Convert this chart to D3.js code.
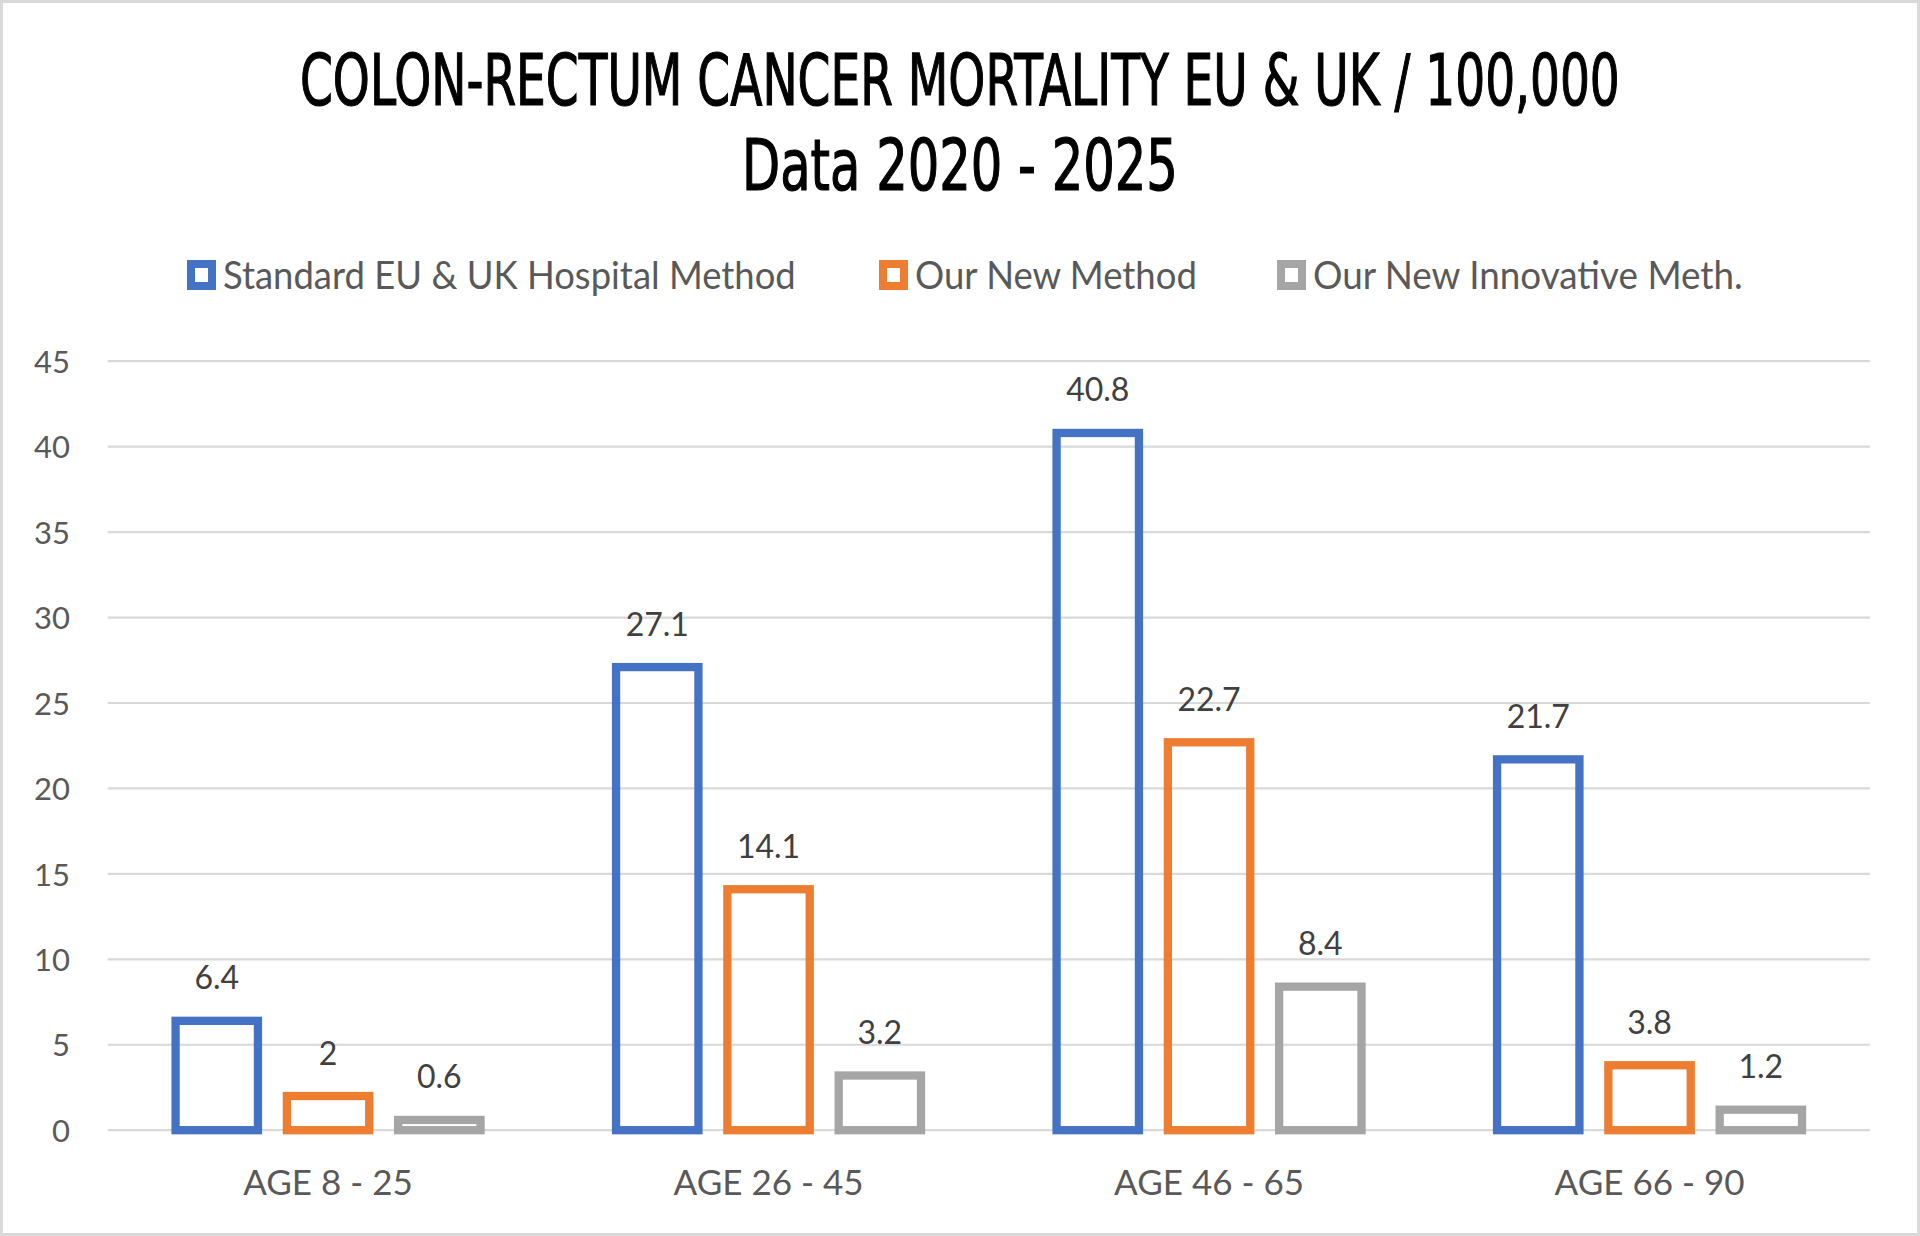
<!DOCTYPE html>
<html><head><meta charset="utf-8">
<script src="https://cdn.jsdelivr.net/npm/d3@7/dist/d3.min.js"></script>
<style>html,body{margin:0;padding:0;background:#fff;}svg{display:block;}</style>
</head><body>
<svg id="chart" width="1920" height="1236"></svg>
<script>
const categories = ["AGE 8 - 25", "AGE 26 - 45", "AGE 46 - 65", "AGE 66 - 90"];
const seriesNames = ["Standard EU & UK Hospital Method", "Our New Method", "Our New Innovative Meth."];
const standardValues = [6.4, 27.1, 40.8, 21.7];
const newMethodValues = [2, 14.1, 22.7, 3.8];
const innovativeValues = [0.6, 3.2, 8.4, 1.2];
const yTicks = [0, 5, 10, 15, 20, 25, 30, 35, 40, 45];
const titleLines = ["COLON-RECTUM CANCER MORTALITY EU & UK / 100,000", "Data 2020 - 2025"];
const colors = ["#4472C4", "#ED7D31", "#A5A5A5"];

const seriesValues = [standardValues, newMethodValues, innovativeValues];
const W = 1920, H = 1236;
const svg = d3.select("#chart");
const bodyFont = "Lato, 'Open Sans', sans-serif";

svg.append("rect").attr("x", 1.5).attr("y", 1.5).attr("width", W - 3).attr("height", H - 3)
  .attr("fill", "#fff").attr("stroke", "#D9D9D9").attr("stroke-width", 3);

// helper: draw text and squeeze horizontally to a target width
function fitText(sel, x0, yb, w) {
  const node = sel.node();
  const natural = node.getComputedTextLength();
  const sx = Math.min(1.15, w / natural);
  sel.attr("x", 0).attr("y", 0).attr("transform", `translate(${x0},${yb}) scale(${sx},1)`);
}

// Title
const titleFont = "'Liberation Sans Narrow', 'DejaVu Sans Condensed', sans-serif";
const titleSpecs = [{y: 105, x0: 300, w: 1320}, {y: 190, x0: 742, w: 436}];
titleLines.forEach((t, i) => {
  const tt = svg.append("text")
    .attr("font-family", titleFont).attr("font-size", 71).attr("fill", "#000")
    .attr("stroke", "#000").attr("stroke-width", 1.2)
    .text(t);
  fitText(tt, titleSpecs[i].x0, titleSpecs[i].y, titleSpecs[i].w);
});

// Legend
const legendSpecs = [{sx: 187, tx: 223, tw: 573}, {sx: 879, tx: 915, tw: 282}, {sx: 1277, tx: 1313, tw: 430}];
seriesNames.forEach((n, i) => {
  const g = svg.append("g");
  g.append("rect").attr("x", legendSpecs[i].sx + 4).attr("y", 260 + 4).attr("width", 21).attr("height", 22)
    .attr("fill", "#fff").attr("stroke", colors[i]).attr("stroke-width", 8);
  const t = g.append("text").attr("dy", "0.36em")
    .attr("font-family", bodyFont).attr("font-size", 38).attr("fill", "#595959")
    .text(n);
  fitText(t, legendSpecs[i].tx, 275, legendSpecs[i].tw);
});

// Scales
const plotLeft = 107.8, plotRight = 1869.8, yBottom = 1130.2, yTop = 361.2;
const x = d3.scaleBand().domain(categories).range([plotLeft, plotRight]).padding(0);
const xs = d3.scaleBand().domain(d3.range(seriesNames.length)).range([0, x.bandwidth()])
  .paddingInner(0.26).paddingOuter(0.609);
const y = d3.scaleLinear().domain([0, 45]).range([yBottom, yTop]);

// Gridlines
svg.append("g").selectAll("line").data(yTicks).join("line")
  .attr("x1", plotLeft).attr("x2", plotRight)
  .attr("y1", d => y(d)).attr("y2", d => y(d))
  .attr("stroke", "#D9D9D9").attr("stroke-width", 2.2);

// Y axis labels
const yAxis = d3.axisLeft(y).tickValues(yTicks).tickSize(0).tickPadding(0).tickFormat(d3.format("d"));
const yg = svg.append("g").attr("transform", `translate(70,0)`).call(yAxis);
yg.select(".domain").remove();
yg.selectAll("text").attr("font-family", bodyFont).attr("font-size", 31).attr("fill", "#595959").attr("dy", "0.36em");

// X axis labels
const xAxis = d3.axisBottom(x).tickSize(0).tickPadding(0);
const xg = svg.append("g").attr("transform", `translate(0,1182)`).call(xAxis);
xg.select(".domain").remove();
xg.selectAll("text").attr("font-family", bodyFont).attr("font-size", 35).attr("fill", "#595959").attr("dy", "0.36em");

// Bars
const sw = 8.3;
const data = [];
categories.forEach((c, ci) => seriesValues.forEach((vals, si) => data.push({c, si, v: vals[ci]})));
svg.append("g").selectAll("rect").data(data).join("rect")
  .attr("x", d => x(d.c) + xs(d.si))
  .attr("width", xs.bandwidth())
  .attr("y", d => y(d.v))
  .attr("height", d => y(0) - y(d.v))
  .attr("fill", "none").attr("stroke", d => colors[d.si]).attr("stroke-width", sw);

// Data labels
svg.append("g").selectAll("text").data(data).join("text")
  .attr("x", d => x(d.c) + xs(d.si) + xs.bandwidth() / 2)
  .attr("y", d => y(d.v) - 43).attr("dy", "0.36em")
  .attr("text-anchor", "middle")
  .attr("font-family", bodyFont).attr("font-size", 32).attr("fill", "#404040")
  .text(d => d3.format("")(d.v));
</script>
</body></html>
